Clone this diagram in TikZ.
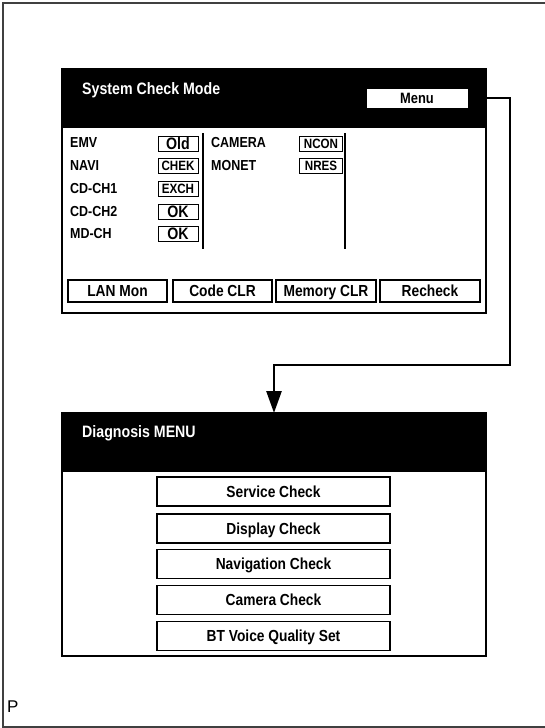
\documentclass[tikz,border=0pt]{standalone}
\usepackage{fontspec}
\setmainfont{Liberation Sans}[FakeStretch=0.86]
\newfontfamily\plainfont{Liberation Sans}
\usetikzlibrary{arrows.meta}
\begin{document}
\begin{tikzpicture}[x=1pt,y=-1pt,
  panel/.style={draw=black, line width=2pt, minimum width=424pt, inner sep=0pt},
  hdr/.style={fill=black, draw=black, line width=2pt, minimum width=424pt, minimum height=58pt, inner sep=0pt},
  hdrtext/.style={anchor=west, text=white, font=\fontsize{16.5}{18}\selectfont\bfseries, inner sep=0pt},
  lbl/.style={anchor=west, font=\fontsize{14.5}{16}\selectfont\bfseries, inner sep=0pt},
  valbox/.style={draw=black, line width=0.9pt, minimum width=40pt, minimum height=15pt, inner sep=0pt,
    text height=9.7pt, text depth=0pt, font=\fontsize{13.5}{14}\selectfont\bfseries},
  bigval/.style={valbox, text height=11.8pt, font=\fontsize{16.5}{17}\selectfont\bfseries},
  btn/.style={draw=black, line width=1.3pt, minimum width=99pt, minimum height=22pt, inner sep=0pt,
    text height=11.5pt, text depth=0pt, font=\fontsize{16}{17}\selectfont\bfseries},
  mbtn/.style={draw=black, line width=1.3pt, minimum width=233pt, minimum height=29pt, inner sep=0pt,
    text height=11.5pt, text depth=0pt, font=\fontsize{16}{17}\selectfont\bfseries},
  sep/.style={line width=1.6pt},
  conn/.style={line width=2.6pt, -{Triangle[length=22pt,width=15pt]}}
]
\useasboundingbox (0,0) rectangle (545,728);
% outer frame
\draw[line width=1.5pt, black!75] (545,3) -- (3,3) -- (3,727) -- (545,727);

% ---------- System Check Mode panel ----------
\node[panel, minimum height=244pt] (sysbox) at (274,191) {};
\node[hdr] (syshead) at (274,98) {};
\node[hdrtext] (systitle) at (82,90) {System Check Mode};
\node[draw=black, fill=white, line width=1pt, minimum width=102pt, minimum height=20pt, inner sep=0pt,
      text height=10.7pt, text depth=0pt,
      font=\fontsize{15}{16}\selectfont\bfseries] (menu) at (417,98) {Menu};

\node[lbl] (l1) at (70,143) {EMV};
\node[lbl] (l2) at (70,166) {NAVI};
\node[lbl] (l3) at (70,189) {CD-CH1};
\node[lbl] (l4) at (70,212) {CD-CH2};
\node[lbl] (l5) at (70,234) {MD-CH};

\node[bigval] (v1) at (178,144) {Old};
\node[valbox] (v2) at (178,166) {CHEK};
\node[valbox] (v3) at (178,189) {EXCH};
\node[bigval] (v4) at (178,212) {OK};
\node[bigval] (v5) at (178,234) {OK};

\draw[sep] (203,133) -- (203,249);

\node[lbl] (l6) at (211,143) {CAMERA};
\node[lbl] (l7) at (211,166) {MONET};
\node[valbox, minimum width=43pt] (v6) at (321,144) {NCON};
\node[valbox, minimum width=43pt] (v7) at (321,166) {NRES};

\draw[sep] (345,133) -- (345,249);

\node[btn] (b1) at (117.5,291) {LAN Mon};
\node[btn] (b2) at (222.5,291) {Code CLR};
\node[btn, minimum width=100pt] (b3) at (326,291) {Memory CLR};
\node[btn, minimum width=100pt] (b4) at (430,291) {Recheck};

% ---------- Diagnosis MENU panel ----------
\node[panel, minimum height=243pt] (diagbox) at (274,534.5) {};
\node[hdr] (diaghead) at (274,442) {};
\node[hdrtext] (diagtitle) at (82,433) {Diagnosis MENU};

\node[mbtn] (m1) at (273.5,491.5) {Service Check};
\node[mbtn] (m2) at (273.5,528.5) {Display Check};
\node[mbtn] (m3) at (273.5,564) {Navigation Check};
\node[mbtn] (m4) at (273.5,600) {Camera Check};
\node[mbtn] (m5) at (273.5,636) {BT Voice Quality Set};

% ---------- connector ----------
\coordinate (c1) at (510,98);
\coordinate (c2) at (510,365);
\coordinate (c3) at (274,365);
\coordinate (tip) at (274,413);
\draw[conn] (menu.east) -- (c1) -- (c2) -- (c3) -- (tip);

\node[anchor=west, inner sep=0pt, font=\plainfont\fontsize{17}{18}\selectfont] (pmark) at (7,707) {P};
\end{tikzpicture}
\end{document}
